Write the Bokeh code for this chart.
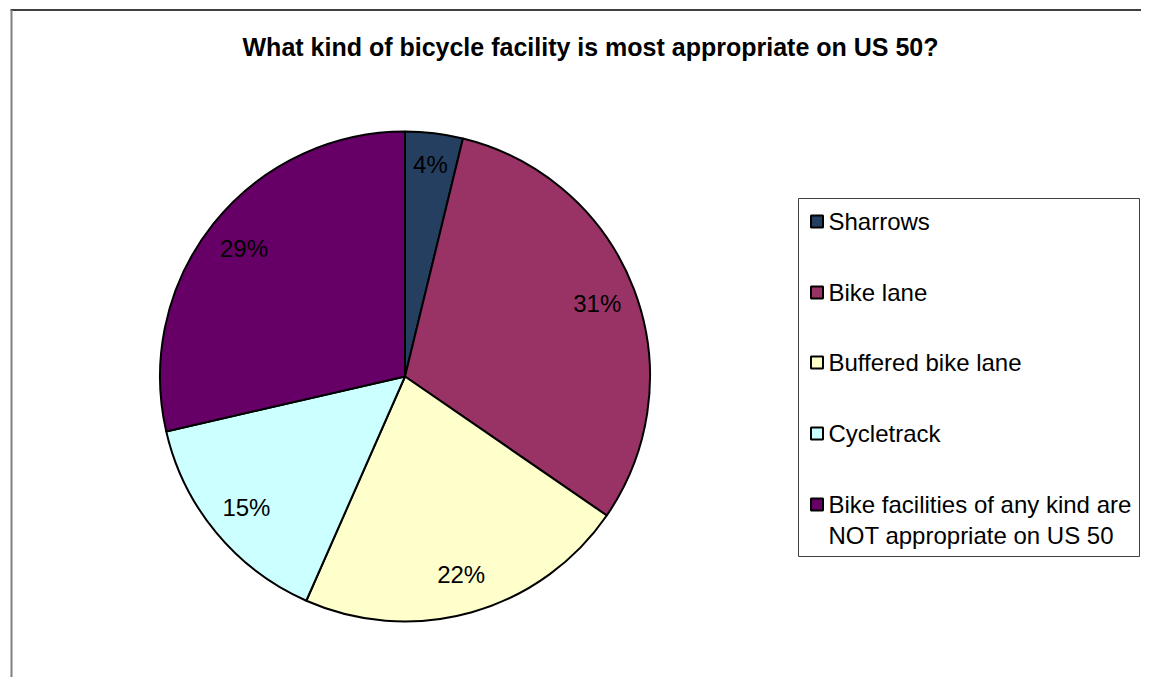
import math
from bokeh.plotting import figure
from bokeh.models import ColumnDataSource, Range1d
from bokeh.core.properties import value
from bokeh.embed import file_html
from bokeh.resources import INLINE

title = "What kind of bicycle facility is most appropriate on US 50?"
categories = ["Sharrows", "Bike lane", "Buffered bike lane", "Cycletrack",
              "Bike facilities of any kind are\nNOT appropriate on US 50"]
shares = [3.8, 30.8, 22.0, 14.8, 28.6]
labels = ["4%", "31%", "22%", "15%", "29%"]
colors = ["#243F60", "#993366", "#FFFFCC", "#CCFFFF", "#660066"]

W, H = 1141, 677
FONT = "Liberation Sans"

def X(px):
    return px

def Y(py):
    return H - py

p = figure(width=W, height=H, output_backend="svg", toolbar_location=None,
           x_range=Range1d(0, W), y_range=Range1d(0, H), min_border=0)
p.axis.visible = False
p.grid.visible = False
p.outline_line_color = None
p.background_fill_color = "white"
p.border_fill_color = "white"

# frame lines of the chart area
p.segment(x0=[X(10)], y0=[Y(9.5)], x1=[X(1149)], y1=[Y(9.5)], line_color="black", line_width=1.5)
p.segment(x0=[X(11)], y0=[Y(9.5)], x1=[X(11)], y1=[Y(690)], line_color="#808080", line_width=2)

# title
p.text(x=[X(590)], y=[Y(46)], text=[title], text_font=value(FONT), text_font_size="25px",
       text_font_style="bold", text_align="center", text_baseline="middle", text_color="black")

# pie
cx, cy, r = X(404.5), Y(376), 245
total = sum(shares)
starts, ends, lx, ly = [], [], [], []
cum = 0.0
for s in shares:
    a0 = math.pi / 2 - 2 * math.pi * cum / total
    cum += s
    a1 = math.pi / 2 - 2 * math.pi * cum / total
    starts.append(a0)
    ends.append(a1)
    mid = (a0 + a1) / 2
    f = 0.87 if s < 10 else 0.84
    lx.append(cx + f * r * math.cos(mid))
    ly.append(cy + f * r * math.sin(mid))

src = ColumnDataSource(dict(start=starts, end=ends, color=colors, lx=lx, ly=ly, label=labels))
p.wedge(x=cx, y=cy, radius=r, start_angle="start", end_angle="end", direction="clock",
        fill_color="color", line_color="black", line_width=2, source=src)
p.text(x="lx", y="ly", text="label", source=src, text_font=value(FONT), text_font_size="24px",
       text_align="center", text_baseline="middle", text_color="black")

# legend
p.rect(x=[X(968.5)], y=[Y(377)], width=341, height=358, fill_color="white",
       line_color="#404040", line_width=1)
row_y = [Y(221), Y(292), Y(362), Y(433), Y(504)]
leg = ColumnDataSource(dict(y=row_y, ty=[v + 14 for v in row_y], color=colors, name=categories,
                            mx=[X(816.5)] * 5, tx=[X(828)] * 5))
p.rect(x="mx", y="y", width=12, height=12, fill_color="color", line_color="black",
       line_width=2, source=leg)
p.text(x="tx", y="ty", text="name", source=leg, text_font=value(FONT), text_font_size="24px",
       text_align="left", text_baseline="top", text_color="black", text_line_height=1.17)

open("out.html", "w").write(file_html(p, INLINE))
